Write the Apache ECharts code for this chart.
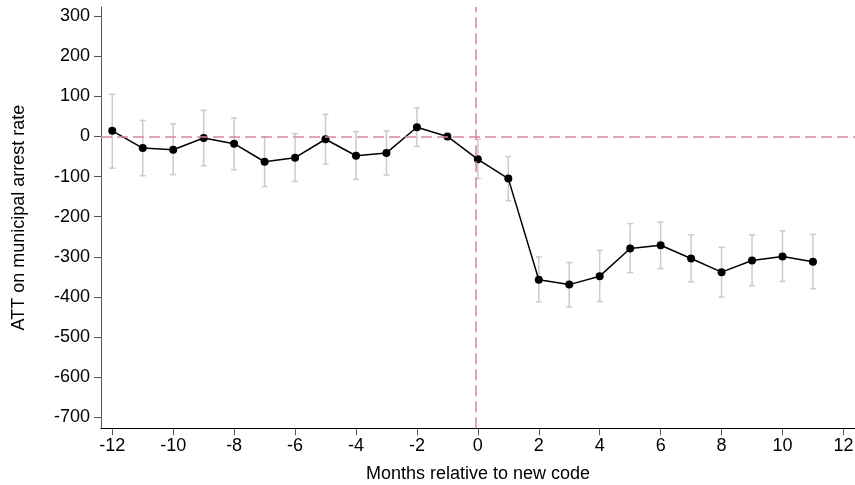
<!DOCTYPE html>
<html>
<head>
<meta charset="utf-8">
<script src="https://cdn.jsdelivr.net/npm/echarts@6/dist/echarts.min.js"></script>
<style>
  html, body { margin: 0; padding: 0; background: #fff; }
  #chart { width: 855px; height: 485px; }
</style>
</head>
<body>
<div id="chart"></div>
<script>
// Event-study estimates: months relative to the new code (month -1 is the reference)
const months = [-12, -11, -10, -9, -8, -7, -6, -5, -4, -3, -2, -1, 0, 1, 2, 3, 4, 5, 6, 7, 8, 9, 10, 11];
const att    = [14, -29, -33, -4, -18, -63, -53, -7, -48, -41, 23, 0, -57, -105, -357, -369, -348, -279, -271, -304, -338, -309, -299, -312];
const ciHigh = [105, 40, 31, 65, 46, -2, 7, 55, 12, 14, 71, null, -7, -50, -300, -314, -284, -217, -213, -245, -276, -245, -235, -244];
const ciLow  = [-79, -98, -95, -73, -83, -125, -112, -69, -107, -96, -25, null, -105, -160, -412, -425, -411, -339, -329, -362, -400, -372, -361, -379];

const xTicks = [-12, -10, -8, -6, -4, -2, 0, 2, 4, 6, 8, 10, 12];
const yTicks = [-700, -600, -500, -400, -300, -200, -100, 0, 100, 200, 300];

const FONT = '"Liberation Sans", Arial, sans-serif';
const REF_COLOR = '#dc8499';

const pointData = months.map((m, i) => [m, att[i]]);
const ciData = months
  .map((m, i) => [m, ciLow[i], ciHigh[i]])
  .filter(d => d[1] !== null && d[2] !== null);

const chart = echarts.init(document.getElementById('chart'), null, { renderer: 'canvas' });

chart.setOption({
  animation: false,
  backgroundColor: '#fff',
  grid: {
    left: 101, right: 0, top: 7, bottom: 56.7,
    containLabel: false,
    outerBoundsMode: 'none'
  },
  xAxis: {
    type: 'value',
    min: -12.37,
    max: 12.38,
    name: 'Months relative to new code',
    nameLocation: 'middle',
    nameGap: 37,
    nameTextStyle: { fontFamily: FONT, fontSize: 18, color: '#000' },
    axisLine: { show: true, onZero: false, lineStyle: { color: '#000', width: 1 } },
    axisTick: { show: true, length: 7, customValues: xTicks, lineStyle: { color: '#555', width: 1 } },
    axisLabel: { customValues: xTicks, margin: 9, fontFamily: FONT, fontSize: 18, color: '#000' },
    splitLine: { show: false }
  },
  yAxis: {
    type: 'value',
    min: -726.9,
    max: 322.4,
    name: 'ATT on municipal arrest rate',
    nameLocation: 'middle',
    nameRotate: 90,
    nameGap: 73,
    nameTextStyle: { fontFamily: FONT, fontSize: 18, color: '#000' },
    axisLine: { show: true, onZero: false, lineStyle: { color: '#555', width: 1 } },
    axisTick: { show: true, length: 7, customValues: yTicks, lineStyle: { color: '#555', width: 1 } },
    axisLabel: { customValues: yTicks, margin: 11, fontFamily: FONT, fontSize: 18, color: '#000' },
    splitLine: { show: false }
  },
  series: [
    {
      // 95% confidence intervals with small caps
      type: 'custom',
      z: 1,
      silent: true,
      data: ciData,
      encode: { x: 0, y: [1, 2] },
      renderItem: function (params, api) {
        const x = api.value(0);
        const lo = api.coord([x, api.value(1)]);
        const hi = api.coord([x, api.value(2)]);
        const cap = 3;
        const style = { stroke: '#cbcbcb', lineWidth: 1.5, fill: null };
        return {
          type: 'group',
          children: [
            { type: 'line', shape: { x1: lo[0], y1: lo[1], x2: hi[0], y2: hi[1] }, style: style },
            { type: 'line', shape: { x1: lo[0] - cap, y1: lo[1], x2: lo[0] + cap, y2: lo[1] }, style: style },
            { type: 'line', shape: { x1: hi[0] - cap, y1: hi[1], x2: hi[0] + cap, y2: hi[1] }, style: style }
          ]
        };
      }
    },
    {
      type: 'line',
      z: 3,
      data: pointData,
      symbol: 'circle',
      symbolSize: 8,
      showAllSymbol: true,
      lineStyle: { color: '#000', width: 1.5 },
      itemStyle: { color: '#000', borderWidth: 0 },
      markLine: {
        silent: true,
        symbol: ['none', 'none'],
        label: { show: false },
        lineStyle: { color: REF_COLOR, width: 1.5, type: [11, 5] },
        data: [
          { yAxis: 0 },
          { xAxis: -0.08 }
        ]
      }
    }
  ]
});
</script>
</body>
</html>
